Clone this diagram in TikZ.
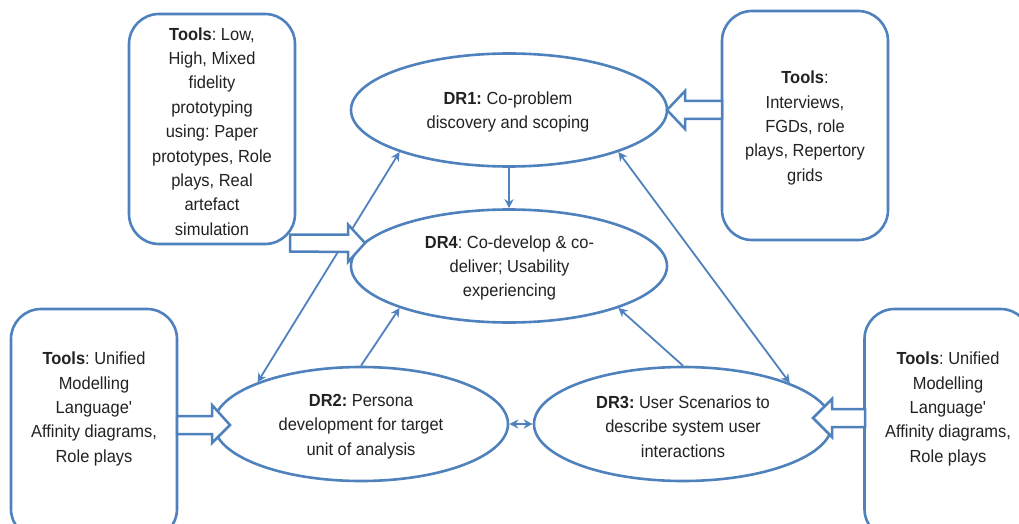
\documentclass[tikz,border=0pt]{standalone}
\usepackage{fontspec}
\setmainfont[FakeStretch=0.94]{Liberation Sans}
\usetikzlibrary{shapes.geometric,arrows.meta}
\definecolor{bl}{HTML}{4F81BD}
\definecolor{ink}{HTML}{222222}
\tikzset{
  toolbox/.style={draw=bl,line width=2.6pt,rounded corners=30pt,fill=white,inner sep=0pt},
  oval/.style={draw=bl,line width=2.6pt,ellipse,fill=white,minimum width=316pt,minimum height=113pt,inner sep=0pt},
  txt/.style={align=center,text=ink,inner sep=0pt,font=\fontsize{17.5pt}{24.4pt}\selectfont},
  link/.style={draw=bl,line width=1.8pt,-{Stealth[length=9pt,width=9pt]}},
  linkboth/.style={draw=bl,line width=1.8pt,{Stealth[length=9pt,width=9pt]}-{Stealth[length=9pt,width=9pt]}},
  blockar/.style={draw=bl,line width=2.5pt,fill=white,miter limit=10}
}
\begin{document}
\frenchspacing
\begin{tikzpicture}[x=1pt,y=-1pt]
\useasboundingbox (0,0) rectangle (1019,524);
\clip (0,0) rectangle (1019,524);
% tool boxes
\node[toolbox,minimum width=166pt,minimum height=230pt] (t1) at (212,129) {};
\node[toolbox,minimum width=166pt,minimum height=229pt] (t2) at (805,125.5) {};
\node[toolbox,minimum width=166pt,minimum height=230pt] (t3) at (94,424) {};
\node[toolbox,minimum width=166pt,minimum height=230pt] (t4) at (947.5,424) {};
% ovals
\node[oval] (dr1) at (509,110) {};
\node[oval] (dr4) at (509,266) {};
\node[oval,minimum width=294pt,minimum height=114pt] (dr2) at (361,424) {};
\node[oval,minimum width=298pt,minimum height=114pt] (dr3) at (683,424) {};
% connectors
\draw[link] (dr1.south) -- (dr4.north);
\draw[linkboth] (dr1.201) -- (dr2.158.3);
\draw[link] (dr2.90) -- (dr4.201);
\draw[link] (dr3.90) -- (dr4.339.5);
\draw[linkboth] (dr1.339.2) -- (dr3.21.7);
\draw[linkboth] (dr2.east) -- (dr3.west);
% block arrows
\coordinate (a1) at (290,243);
\coordinate (a2) at (722,110);
\coordinate (a3) at (177,425);
\coordinate (a4) at (865,418);
\draw[blockar] (a1) ++(0,-8.5) -- ++(58,0) -- ++(0,-10) -- (365,243) -- (348,262) -- ++(0,-10) -- (290,251.5) -- cycle;
\draw[blockar] (a2) ++(0,-9) -- (685,101) -- ++(0,-10) -- (667,110) -- (685,129) -- ++(0,-10) -- (722,119) -- cycle;
\draw[blockar] (a3) ++(0,-9) -- (212,416) -- ++(0,-11) -- (230,425) -- (212,443) -- ++(0,-9) -- (177,434) -- cycle;
\draw[blockar] (a4) ++(0,-9) -- (832,409) -- ++(0,-10) -- (813,418) -- (832,437) -- ++(0,-10) -- (865,427) -- cycle;
% texts
\node[txt] (x1) at (212,131.5) {\textbf{Tools}: Low,\\High, Mixed\\fidelity\\prototyping\\using: Paper\\prototypes, Role\\plays, Real\\artefact\\simulation};
\node[txt] (x2) at (805,128) {\textbf{Tools}:\\Interviews,\\FGDs, role\\plays, Repertory\\grids};
\node[txt] (x3) at (94,409) {\textbf{Tools}: Unified\\Modelling\\Language\textquotesingle\\Affinity diagrams,\\Role plays};
\node[txt] (x4) at (948,409) {\textbf{Tools}: Unified\\Modelling\\Language\textquotesingle\\Affinity diagrams,\\Role plays};
\node[txt] (y1) at (508,112) {\textbf{DR1:} Co-problem\\discovery and scoping};
\node[txt] (y4) at (509.5,268) {\textbf{DR4}: Co-develop \& co-\\deliver; Usability\\experiencing};
\node[txt] (y2) at (361,426.5) {\textbf{DR2:} Persona\\development for target\\unit of analysis};
\node[txt] (y3) at (683,426.5) {\textbf{DR3:} User Scenarios to\\describe system user\\interactions};
\end{tikzpicture}
\end{document}
